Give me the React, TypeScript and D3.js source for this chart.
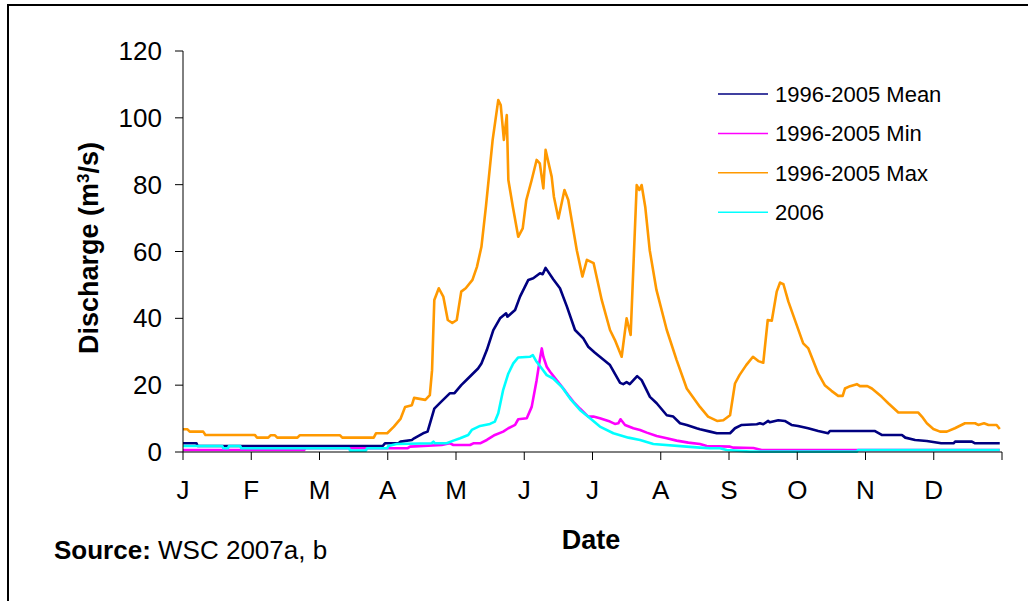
import React from "react";
import * as d3 from "d3";

// [day of year, discharge m3/s]
const meanSeries: [number, number][] = [
  [0,2.6],[6,2.6],[6.5,1.8],[89,1.8],[90,2.6],[96,2.6],[97,3.1],[102,3.6],[103,4.1],[107,5.6],[109,6.1],[112,13],[115,15],[119,17.6],[121,17.6],[124,20],[127,22],[131.5,25],[133,26.5],[135.4,30.5],[138.3,36.5],[141.3,40],[144,41.5],[144.6,40.5],[148,42.5],[150.2,46.5],[153.9,51.5],[156.1,52],[159.1,53.5],[160.3,53.2],[161.6,55.1],[165,51.7],[168,49],[171.1,43.5],[174.7,36.5],[178.4,34],[180.6,31.5],[183.6,29.7],[190.3,26],[194.8,20.7],[196.2,20.3],[197.7,20.9],[199.1,20.3],[202.4,22.7],[204.4,21.5],[208.1,16.5],[211.1,14.6],[215.6,11],[218.5,10.6],[221.5,8.6],[224.5,8.1],[228.9,7.1],[230.4,6.8],[234.9,6.1],[237.9,5.6],[243.8,5.6],[246,7.1],[249,8.1],[255.7,8.3],[257.1,8.6],[258.6,8.3],[260.8,9.3],[261.5,8.9],[265.3,9.5],[268.2,9.3],[271.2,8.1],[274.1,7.8],[278.6,7.1],[283.1,6.3],[287.5,5.6],[288.3,6.3],[308.2,6.3],[311.4,5.1],[320.4,5.1],[321.9,4.3],[326.3,3.6],[331.5,3.3],[337.9,2.6],[343.4,2.6],[344.1,3.1],[351.6,3.1],[353,2.6],[364,2.6]
];

const minSeries: [number, number][] = [
  [0,0.6],[54,0.6],[54.5,1.1],[100,1.1],[101.2,1.6],[115.3,2.1],[119,2.6],[120.5,2.1],[127.9,2.1],[129.4,2.6],[132.4,2.6],[135.4,3.6],[139,5.1],[142.7,6.1],[145,7.1],[148,8.1],[149.4,9.8],[153.2,10.1],[155.4,13.5],[157.6,21.5],[159.1,28],[159.9,31],[160.6,28.5],[162.1,25.5],[163.6,24],[166.5,21.5],[169.5,19],[171.7,17],[174,15],[176.9,13],[180.6,10.6],[182.9,10.6],[185.8,10.1],[190.3,9.1],[192.5,8.4],[194,8.6],[195,9.8],[197,8.1],[200.7,7.1],[203.7,6.6],[206.7,5.8],[211.1,4.8],[215.6,4.1],[220,3.4],[225.2,2.8],[230.4,2.4],[233.4,1.8],[243.8,1.6],[245.3,1.3],[254.2,1.2],[257.9,0.6],[364,0.6]
];

const maxSeries: [number, number][] = [
  [0,6.8],[2,6.8],[3,6.1],[9,6.1],[10,5.1],[32,5.1],[33,4.3],[38,4.3],[39,5.0],[41,5.0],[42,4.3],[51,4.3],[52,5.0],[70,5.0],[71,4.3],[85,4.3],[86,5.6],[91,5.6],[94,7.6],[97,10],[99,13.5],[102,14],[103,16.2],[108,15.6],[110,17],[111,24.5],[112,45.5],[114,49],[116,46.5],[118,39.5],[120,38.6],[122,39.5],[124,48],[126,49],[129,51.5],[131,55.4],[133,61.4],[135,73.4],[138,93.4],[140.5,105.3],[141.6,103.8],[143,93.4],[144.3,100.8],[145,81.4],[147,73.4],[149.4,64.4],[151.4,66.9],[153,75.4],[155.4,81.4],[157.6,87.4],[159,86.4],[160.6,78.9],[161.6,90.4],[164.3,82.4],[165.3,76.4],[167.3,69.9],[170,78.4],[171.7,75.4],[175.5,60.4],[178,52.5],[180,57.5],[183,56.5],[186.6,45.5],[190.3,36.5],[192.5,33.5],[195.5,28.5],[197.7,40],[199.5,35],[202.2,79.9],[203.4,78.4],[204.4,79.9],[206,73.4],[208,60.4],[211,48.5],[215.6,36.5],[220,27.5],[224.5,19],[230.4,13.5],[234,10.6],[238,9.3],[240.8,9.5],[243.8,11],[246,20.5],[248,23],[251,26],[254,28.5],[256.4,27.2],[258.6,26.7],[260.6,39.5],[262.4,39.3],[264.6,48],[266.1,50.7],[267.6,50.2],[269.8,45],[276.4,32.5],[278.7,31],[283.1,23.5],[286,20],[289,18.3],[292,16.8],[294,16.8],[295,19],[297.3,19.7],[300.3,20.3],[301.7,19.7],[305,19.7],[307,19],[311.4,16.5],[314.3,14.6],[318.8,11.8],[327.7,11.8],[329.3,10.6],[331.5,8.6],[334.4,6.9],[337.4,6.1],[340.4,6.1],[344,7.1],[348.5,8.6],[353,8.6],[354.4,8.1],[357,8.6],[359,8.1],[362.6,8.1],[364,6.9]
];

const series2006: [number, number][] = [
  [0,1.8],[17.5,1.8],[18,1.1],[20,1.1],[20.5,1.8],[25.5,1.8],[26,1.1],[74,1.1],[74.5,0.4],[81.5,0.4],[82,1.1],[91,1.1],[91.5,1.8],[95.2,2.4],[110.8,2.6],[111.6,3.1],[112.3,2.6],[117.5,2.6],[120.5,3.4],[123.5,4.1],[127.1,5.1],[128.7,6.6],[132.4,7.8],[136.8,8.4],[139,9.1],[140.5,11.6],[142.7,18.6],[145,23.5],[147.2,26.5],[149.4,28.3],[154.6,28.5],[155.9,29],[157.6,27],[159.9,25],[162.1,23],[165,22],[168.8,19.5],[172.5,16],[176.9,12.6],[181.4,10.1],[185.8,7.6],[191.8,5.6],[198.5,4.3],[203.7,3.6],[209.6,2.4],[224.5,1.6],[230.4,1.3],[234.9,1.1],[239.3,1.1],[242.3,0.6],[252.7,0.1],[300.4,0.1],[300.8,0.6],[364,0.6]
];

const monthLabels = ["J", "F", "M", "A", "M", "J", "J", "A", "S", "O", "N", "D"];
const yTicks = [0, 20, 40, 60, 80, 100, 120];
const legendNames = ["1996-2005 Mean", "1996-2005 Min", "1996-2005 Max", "2006"];
const colors = ["#000080", "#FF00FF", "#FF9900", "#00FFFF"];

const FONT = "'Liberation Sans', Arial, Helvetica, sans-serif";

export default function App() {
  const x = d3.scaleLinear().domain([0, 365]).range([183, 1002]);
  const y = d3.scaleLinear().domain([0, 120]).range([452, 51]);
  const line = d3
    .line<[number, number]>()
    .x((d) => x(d[0]))
    .y((d) => y(d[1]));

  const allSeries = [meanSeries, minSeries, maxSeries, series2006];
  const monthTicks = d3.range(13).map((i) => (i * 365) / 12);

  return (
    <svg
      width={1028}
      height={601}
      style={{ position: "absolute", left: 0, top: 0, background: "#fff" }}
      fontFamily={FONT}
    >
      <rect x={0} y={0} width={1028} height={601} fill="#fff" />
      {/* frame */}
      <path d="M8,601 L8,5 L1028,5" fill="none" stroke="#000" strokeWidth={2} />

      {/* series */}
      {allSeries.map((s, i) => (
        <path
          key={i}
          d={line(s) || ""}
          fill="none"
          stroke={colors[i]}
          strokeWidth={2.6}
          strokeLinejoin="round"
        />
      ))}

      {/* y axis */}
      <line x1={183} x2={183} y1={y(120)} y2={y(0)} stroke="#000" strokeWidth={1} />
      {yTicks.map((t) => (
        <g key={t}>
          <line x1={175} x2={183} y1={y(t)} y2={y(t)} stroke="#000" strokeWidth={1} />
          <text x={162} y={y(t)} dy="0.35em" textAnchor="end" fontSize={26} fill="#000">
            {t}
          </text>
        </g>
      ))}

      {/* x axis */}
      <line x1={183} x2={1002} y1={452} y2={452} stroke="#000" strokeWidth={1} />
      {monthTicks.map((t, i) => (
        <line key={i} x1={x(t)} x2={x(t)} y1={452} y2={460} stroke="#000" strokeWidth={1} />
      ))}
      {monthLabels.map((m, i) => (
        <text key={i} x={x(monthTicks[i])} y={499} textAnchor="middle" fontSize={26} fill="#000">
          {m}
        </text>
      ))}

      {/* axis titles */}
      <text x={591} y={549} textAnchor="middle" fontSize={27} fontWeight="bold" fill="#000">
        Date
      </text>
      <text
        transform="translate(98,248) rotate(-90)"
        textAnchor="middle"
        fontSize={27}
        fontWeight="bold"
        fill="#000"
      >
        Discharge (m<tspan baselineShift="super" fontSize={17}>3</tspan>/s)
      </text>

      {/* source */}
      <text x={54} y={559} fontSize={26} fill="#000">
        <tspan fontWeight="bold">Source:</tspan> WSC 2007a, b
      </text>

      {/* legend */}
      {legendNames.map((n, i) => {
        const ly = 94 + i * 39.4;
        return (
          <g key={n}>
            <line x1={718} x2={768} y1={ly} y2={ly} stroke={colors[i]} strokeWidth={1.5} />
            <text x={775} y={ly} dy="0.35em" fontSize={22} fill="#000">
              {n}
            </text>
          </g>
        );
      })}
    </svg>
  );
}
